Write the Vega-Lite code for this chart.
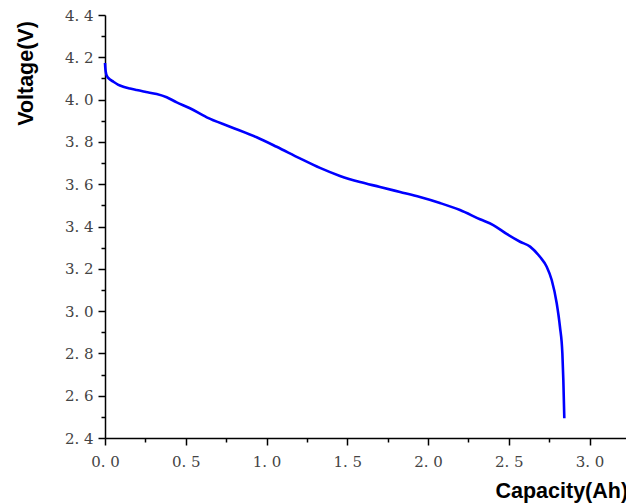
{
  "$schema": "https://vega.github.io/schema/vega-lite/v6.json",
  "autosize": "none",
  "width": 521,
  "height": 423,
  "padding": {"left": 105, "top": 15, "right": 0, "bottom": 66},
  "background": "white",
  "config": {"view": {"stroke": null}},
  "data": {"values": [
    {"cap": 0.000, "v": 4.173},
    {"cap": 0.002, "v": 4.149},
    {"cap": 0.006, "v": 4.126},
    {"cap": 0.012, "v": 4.112},
    {"cap": 0.031, "v": 4.095},
    {"cap": 0.051, "v": 4.085},
    {"cap": 0.080, "v": 4.071},
    {"cap": 0.113, "v": 4.061},
    {"cap": 0.155, "v": 4.052},
    {"cap": 0.196, "v": 4.045},
    {"cap": 0.254, "v": 4.036},
    {"cap": 0.320, "v": 4.026},
    {"cap": 0.382, "v": 4.011},
    {"cap": 0.444, "v": 3.987},
    {"cap": 0.526, "v": 3.959},
    {"cap": 0.630, "v": 3.916},
    {"cap": 0.774, "v": 3.872},
    {"cap": 0.939, "v": 3.822},
    {"cap": 1.063, "v": 3.777},
    {"cap": 1.207, "v": 3.722},
    {"cap": 1.331, "v": 3.677},
    {"cap": 1.455, "v": 3.639},
    {"cap": 1.579, "v": 3.610},
    {"cap": 1.703, "v": 3.587},
    {"cap": 1.827, "v": 3.563},
    {"cap": 1.950, "v": 3.539},
    {"cap": 2.074, "v": 3.511},
    {"cap": 2.198, "v": 3.478},
    {"cap": 2.322, "v": 3.434},
    {"cap": 2.404, "v": 3.407},
    {"cap": 2.487, "v": 3.365},
    {"cap": 2.570, "v": 3.328},
    {"cap": 2.632, "v": 3.305},
    {"cap": 2.693, "v": 3.257},
    {"cap": 2.735, "v": 3.210},
    {"cap": 2.766, "v": 3.147},
    {"cap": 2.797, "v": 3.037},
    {"cap": 2.817, "v": 2.926},
    {"cap": 2.832, "v": 2.800},
    {"cap": 2.838, "v": 2.674},
    {"cap": 2.844, "v": 2.493}
  ]},
  "mark": {"type": "line", "color": "#0000ff", "strokeWidth": 2.6, "interpolate": "monotone", "clip": false},
  "encoding": {
    "x": {
      "field": "cap", "type": "quantitative",
      "scale": {"domain": [0, 3.226], "nice": false, "zero": false},
      "axis": {
        "values": [0, 0.25, 0.5, 0.75, 1.0, 1.25, 1.5, 1.75, 2.0, 2.25, 2.5, 2.75, 3.0],
        "format": ".1f",
        "labelExpr": "abs(datum.value*2 - round(datum.value*2)) < 0.01 ? replace(datum.label, '.', '. ') : ''",
        "grid": false,
        "domainColor": "black", "domainWidth": 1.5,
        "tickColor": "black", "tickWidth": 1.5,
        "tickSize": {"condition": {"test": "abs(datum.value*2 - round(datum.value*2)) < 0.01", "value": 7}, "value": 4},
        "labelFont": "DejaVu Serif", "labelFontSize": 15, "labelColor": "#444444",
        "labelPadding": 9, "labelFlush": false, "labelOverlap": false,
        "title": "Capacity(Ah)",
        "titleFont": "Liberation Sans", "titleFontSize": 21.5, "titleFontWeight": "bold", "titleColor": "black",
        "titleAlign": "left", "titleAnchor": null, "titleBaseline": "alphabetic",
        "titleX": 390, "titleY": 59
      }
    },
    "y": {
      "field": "v", "type": "quantitative",
      "scale": {"domain": [2.4, 4.4], "nice": false, "zero": false},
      "axis": {
        "values": [2.4, 2.5, 2.6, 2.7, 2.8, 2.9, 3.0, 3.1, 3.2, 3.3, 3.4, 3.5, 3.6, 3.7, 3.8, 3.9, 4.0, 4.1, 4.2, 4.3, 4.4],
        "format": ".1f",
        "labelExpr": "abs(datum.value*5 - round(datum.value*5)) < 0.01 ? replace(datum.label, '.', '. ') : ''",
        "grid": false,
        "domainColor": "black", "domainWidth": 1.5,
        "tickColor": "black", "tickWidth": 1.5,
        "tickSize": {"condition": {"test": "abs(datum.value*5 - round(datum.value*5)) < 0.01", "value": 7}, "value": 4},
        "labelFont": "DejaVu Serif", "labelFontSize": 15, "labelColor": "#444444",
        "labelPadding": 5, "labelFlush": false, "labelOverlap": false,
        "title": "Voltage(V)",
        "titleFont": "Liberation Sans", "titleFontSize": 21.5, "titleFontWeight": "bold", "titleColor": "black",
        "titleAngle": 270, "titleAlign": "center", "titleAnchor": null, "titleBaseline": "alphabetic",
        "titleX": -72.5, "titleY": 58
      }
    }
  }
}
